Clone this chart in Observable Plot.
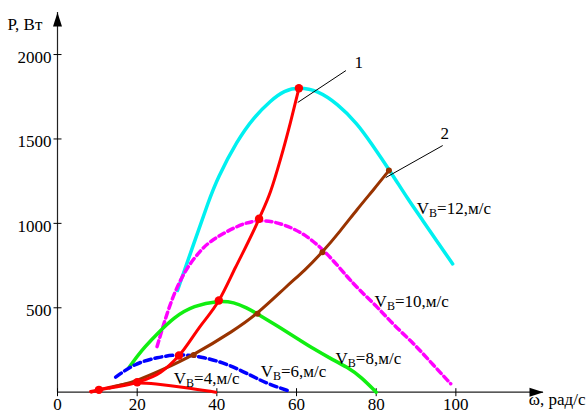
<!DOCTYPE html>
<html><head><meta charset="utf-8">
<script src="https://cdn.jsdelivr.net/npm/d3@7"></script>
<script src="https://cdn.jsdelivr.net/npm/@observablehq/plot@0.6"></script>
<style>
body{margin:0;background:#fff}
svg, svg text, svg tspan {font-family: "Liberation Serif", "DejaVu Serif", serif !important;}
</style>
</head><body><div id="chart"></div>
<script>
// Wind speed curves P(ω) for V = 12, 10, 8, 6, 4 м/с
const omega12 = [30.1, 34.2, 38.0, 40.1, 45.1, 49.3, 53.5, 56.9, 60.6, 65.3, 70.3, 75.3, 78.6, 83.7, 87.9, 92.0, 95.4, 99.2];
const power12 = [602, 879, 1136, 1264, 1491, 1629, 1727, 1787, 1806, 1787, 1708, 1590, 1480, 1303, 1145, 1007, 888, 760];
const omega10 = [25.0, 28.4, 32.2, 35.9, 38.4, 45.1, 50.6, 56.9, 62.7, 67.8, 72.8, 76.0, 80.3, 84.5, 89.5, 94.0, 98.7];
const power10 = [270, 543, 733, 839, 898, 987, 1027, 997, 928, 820, 681, 600, 505, 395, 287, 170, 50];
const omega8 = [18, 21, 25, 29.2, 34.2, 40.5, 44.3, 47.5, 50.2, 56, 60.6, 64.4, 68.5, 72.8, 76.1, 80];
const power8 = [148, 247, 345, 444, 513, 543, 533, 500, 464, 380, 312, 255, 200, 148, 92, 0];
const omega6 = [14.6, 19.2, 25.0, 30.9, 36.8, 42.6, 48.5, 52.7, 58.5];
const power6 = [89, 168, 207, 227, 207, 168, 100, 50, 4];
const omega4 = [8.3, 10.4, 15, 20, 24.2, 31.7, 39.7];
const power4 = [4, 14, 40, 59, 50, 30, 0];
// Curve 1 (optimum) and curve 2 (load)
const omegaCurve1 = [8.5, 10.4, 15, 20, 25.9, 30.5, 35.5, 40.5, 44.7, 50.6, 53.5, 56, 58.5, 60.6];
const powerCurve1 = [0, 14, 32, 59, 118, 217, 380, 543, 740, 1027, 1190, 1382, 1600, 1800];
const omegaCurve2 = [13, 16.5, 20, 25.9, 34.2, 44.3, 50.2, 57.7, 62, 66.5, 71, 75.3, 79.5, 83.2];
const powerCurve2 = [25, 45, 69, 128, 220, 365, 464, 632, 720, 829, 955, 1086, 1204, 1313];
const omegaOpt = [10.4, 20, 30.5, 40.5, 50.6, 60.6];
const powerOpt = [14, 59, 217, 543, 1027, 1800];
const omegaCross2 = [34.2, 50.2, 66.5, 83.2];
const powerCross2 = [220, 464, 829, 1313];
// Labels
const speeds = [12, 10, 8, 6, 4];
const labelOmega = [90.2, 79.6, 69.8, 51.0, 29.2];
const labelPower = [1057, 507, 168, 89, 50];
const curveNames = ["1", "2"];
const nameOmega = [75.6, 97.2];
const namePower = [1950, 1532];
const leaderOmega1 = [60.3, 82.4];
const leaderPower1 = [1716, 1271];
const leaderOmega2 = [72.4, 96.7];
const leaderPower2 = [1905, 1461];
const xTicks = [0, 20, 40, 60, 80, 100];
const yTicks = [500, 1000, 1500, 2000];
const xMax = 122, yMax = 2249;

const FONT = "Liberation Serif";
const rows = (w, p) => w.map((x, i) => ({w: x, p: p[i]}));
const vTick = {draw(c) { c.moveTo(0, -4); c.lineTo(0, 4); }};
const hTick = {draw(c) { c.moveTo(-4, 0); c.lineTo(4, 0); }};
const upArrow = {draw(c) { c.moveTo(0, 0); c.lineTo(-4.5, 14); c.lineTo(4.5, 14); c.closePath(); }};
const rightArrow = {draw(c) { c.moveTo(0, 0); c.lineTo(-14, -4.5); c.lineTo(-14, 4.5); c.closePath(); }};

const curveLine = (w, p, curve, opts) => Plot.line(rows(w, p), {x: "w", y: "p", curve, strokeLinejoin: "round", ...opts});

const chart = Plot.plot({
  width: 587, height: 416,
  marginLeft: 57, marginRight: 44, marginTop: 12, marginBottom: 24.3,
  style: {fontFamily: FONT, fontSize: "17px", background: "white", color: "black"},
  x: {domain: [0, xMax]},
  y: {domain: [0, yMax]},
  marks: [
    Plot.ruleX([0], {stroke: "#222", strokeWidth: 1.2}),
    Plot.ruleY([0], {stroke: "#222", strokeWidth: 1.2}),
    Plot.dot([0], {frameAnchor: "top-left", symbol: upArrow, fill: "black", stroke: "none", r: 5}),
    Plot.dot([0], {frameAnchor: "bottom-right", symbol: rightArrow, fill: "black", stroke: "none", r: 5}),
    Plot.dot(xTicks, {x: d => d, frameAnchor: "bottom", symbol: vTick, fill: "none", stroke: "black", strokeWidth: 1, r: 4}),
    Plot.dot(yTicks, {y: d => d, frameAnchor: "left", symbol: hTick, fill: "none", stroke: "black", strokeWidth: 1, r: 4}),
    Plot.axisX({ticks: xTicks, tickSize: 0, tickPadding: 6, fontSize: 17, fontFamily: FONT, tickFormat: d => String(d), label: null}),
    Plot.axisY({ticks: yTicks, tickSize: 0, tickPadding: 6, fontSize: 17, fontFamily: FONT, tickFormat: d => String(d), label: null, dy: 3}),
    Plot.text(["P, Вт"], {frameAnchor: "top-left", dx: -50, dy: 5, textAnchor: "start", fontSize: 17, fontFamily: FONT}),
    Plot.text(["ω, рад/с"], {frameAnchor: "bottom-right", dx: 42, dy: 13, textAnchor: "end", fontSize: 17, fontFamily: FONT}),
    curveLine(omega12, power12, "basis", {stroke: "#00f0f0", strokeWidth: 3.5}),
    curveLine(omega10, power10, "basis", {stroke: "#ff00ff", strokeWidth: 3.5, strokeDasharray: "6,4"}),
    curveLine(omega8, power8, "basis", {stroke: "#11ee11", strokeWidth: 3.5}),
    curveLine(omega6, power6, "basis", {stroke: "#0000ff", strokeWidth: 3.5, strokeDasharray: "7,4"}),
    curveLine(omega4, power4, "basis", {stroke: "#ff0000", strokeWidth: 3}),
    curveLine(omegaCurve2, powerCurve2, "basis", {stroke: "#993300", strokeWidth: 3}),
    curveLine(omegaCurve1, powerCurve1, "monotone-x", {stroke: "#ff0000", strokeWidth: 3}),
    Plot.dot(rows(omegaOpt, powerOpt), {x: "w", y: "p", r: 4.2, fill: "#ff0000", stroke: "none"}),
    Plot.dot(rows(omegaCross2, powerCross2), {x: "w", y: "p", r: 3, fill: "#993300", stroke: "none"}),
    Plot.link(curveNames.map((n, i) => ({x1: leaderOmega1[i], y1: leaderPower1[i], x2: leaderOmega2[i], y2: leaderPower2[i]})),
      {x1: "x1", y1: "y1", x2: "x2", y2: "y2", stroke: "black", strokeWidth: 1}),
    Plot.text(curveNames.map((n, i) => ({n, w: nameOmega[i], p: namePower[i]})), {x: "w", y: "p", text: "n", fontSize: 17, fontFamily: FONT}),
    Plot.text(speeds.map((v, i) => ({t: `VВ=${v},м/с`, w: labelOmega[i], p: labelPower[i]})),
      {x: "w", y: "p", text: "t", textAnchor: "start", lineAnchor: "bottom", fontSize: 17, fontFamily: FONT})
  ]
});
document.getElementById("chart").appendChild(chart);
// subscript "В" in wind-speed labels
d3.select(chart).selectAll("text").each(function() {
  const m = this.textContent.match(/^V(В)(=.*)$/);
  if (m) {
    const s = d3.select(this);
    s.text("");
    s.append("tspan").text("V");
    s.append("tspan").attr("font-size", 12).attr("dy", 3).text(m[1]);
    s.append("tspan").attr("dy", -3).text(m[2]);
  }
});
</script>
</body></html>
